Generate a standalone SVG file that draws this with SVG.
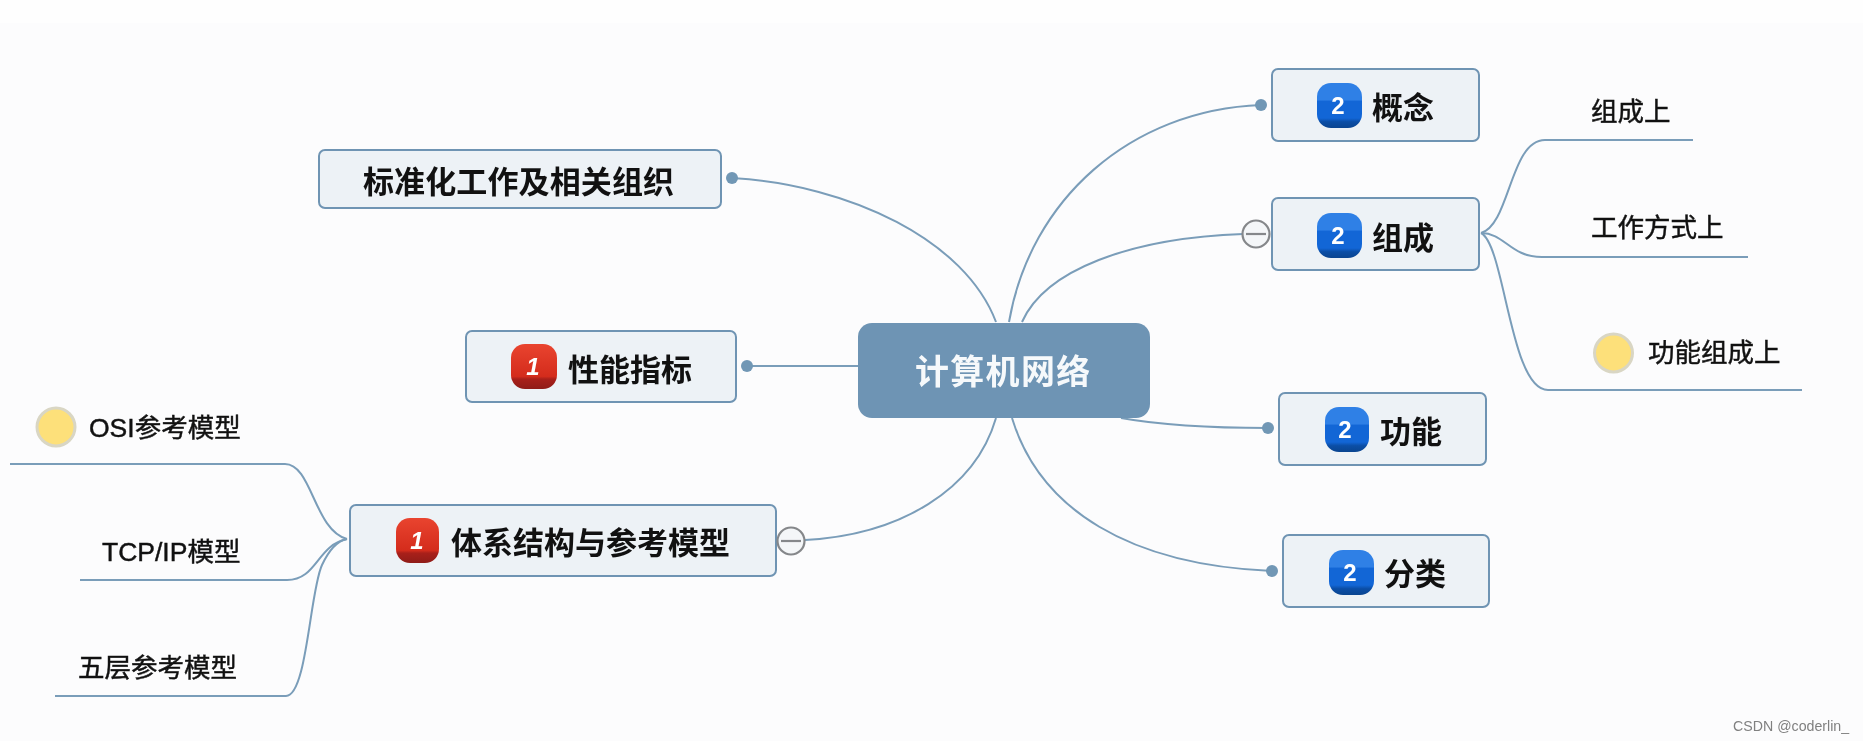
<svg xmlns="http://www.w3.org/2000/svg" width="1863" height="741" viewBox="0 0 1863 741">
<style>
text{font-family:"Liberation Sans","Noto Sans CJK SC",sans-serif;fill:#111}
.m{font-size:31px;font-weight:700}
.s{font-size:26.500px;stroke:#111;stroke-width:.45px}
.c{font-size:34px;font-weight:700;fill:#f6f9fb;letter-spacing:1.300px}
.b{font-size:24px;font-weight:700;fill:#fff;text-anchor:middle}
.i{font-style:italic}
.box{fill:#edf2f6;stroke:#6f94b3;stroke-width:2}
.l{fill:none;stroke:#7a9db9;stroke-width:2}
.o{fill:#fde07a;stroke:#d9d6c4;stroke-width:3}
.x{fill:#f4f6f8;stroke:#85878a;stroke-width:2.200}
.xl{stroke:#85878a;stroke-width:2.200}
</style>
<defs>
<filter id="soft" filterUnits="userSpaceOnUse" x="0" y="0" width="1863" height="741" color-interpolation-filters="sRGB"><feGaussianBlur stdDeviation="0.6"/></filter>
<marker id="dot" markerUnits="userSpaceOnUse" markerWidth="16" markerHeight="16" refX="8" refY="8"><circle cx="8" cy="8" r="6" fill="#7197b5"/></marker>
<linearGradient id="red" x1="0" y1="0" x2="0" y2="1"><stop offset="0" stop-color="#e9442f"/><stop offset=".72" stop-color="#d42c1c"/><stop offset=".78" stop-color="#a9201a"/><stop offset="1" stop-color="#8f1c18"/></linearGradient>
<linearGradient id="blue" x1="0" y1="0" x2="0" y2="1"><stop offset="0" stop-color="#2f80e6"/><stop offset=".38" stop-color="#2f80e6"/><stop offset=".4" stop-color="#1266d6"/><stop offset=".78" stop-color="#1266d6"/><stop offset=".86" stop-color="#0b4ea6"/><stop offset="1" stop-color="#0a4590"/></linearGradient>
</defs>
<rect width="1863" height="741" fill="#fcfcfd"/>
<rect width="1863" height="23" fill="#fefefe"/>
<g filter="url(#soft)">
<g id="connectors">
<path class="l" marker-start="url(#dot)" d="M732 178C850 185 965 240 996 322"/>
<path class="l" marker-end="url(#dot)" d="M1009 322C1030 200 1130 110 1261 105"/>
<path class="l" d="M1022 322C1045 270 1130 238 1243 234"/>
<path class="l" marker-start="url(#dot)" d="M747 366H858"/>
<path class="l" marker-end="url(#dot)" d="M1121 418C1160 425 1210 428 1268 428"/>
<path class="l" marker-end="url(#dot)" d="M1012 418C1040 510 1130 565 1272 571"/>
<path class="l" d="M996 418C975 490 900 535 805 540"/>
<path class="l" d="M10 464H285C312 464 314 530 347 539"/>
<path class="l" d="M80 580H287C317 580 317 545 347 539"/>
<path class="l" d="M55 696H286C307 696 310 590 322 565C329 550 337 541 347 539"/>
<path class="l" d="M1481 233C1510 225 1510 140 1545 140H1693"/>
<path class="l" d="M1481 233C1505 233 1510 257 1542 257H1748"/>
<path class="l" d="M1481 233C1505 245 1510 390 1548 390H1802"/>
</g>
<g id="center"><rect x="858" y="323" width="292" height="95" rx="14" fill="#6e94b4"/><text class="c" x="915" y="384">计算机网络</text></g>
<g id="std"><rect class="box" x="319" y="150" width="402" height="58" rx="6"/><text class="m" x="363" y="193" textLength="311">标准化工作及相关组织</text></g>
<g id="perf"><rect class="box" x="466" y="331" width="270" height="71" rx="6"/><rect x="511" y="344" width="46" height="45" rx="14" fill="url(#red)"/><text class="b i" x="533" y="375">1</text><text class="m" x="568" y="381">性能指标</text></g>
<g id="arch"><rect class="box" x="350" y="505" width="426" height="71" rx="6"/><rect x="396" y="518" width="43" height="45" rx="14" fill="url(#red)"/><text class="b i" x="417" y="549">1</text><text class="m" x="451" y="554" textLength="279">体系结构与参考模型</text></g>
<g id="toggle-arch"><circle class="x" cx="791" cy="541" r="13.500"/><path class="xl" d="M781 541H801"/></g>
<g id="osi"><circle class="o" cx="56" cy="427" r="19"/><text class="s" x="89" y="437">OSI参考模型</text></g>
<g id="tcp"><text class="s" x="102" y="561">TCP/IP模型</text></g>
<g id="five"><text class="s" x="78" y="677">五层参考模型</text></g>
<g id="concept"><rect class="box" x="1272" y="69" width="207" height="72" rx="6"/><rect x="1317" y="83" width="45" height="45" rx="14" fill="url(#blue)"/><text class="b" x="1338" y="114">2</text><text class="m" x="1372" y="119">概念</text></g>
<g id="comp"><rect class="box" x="1272" y="198" width="207" height="72" rx="6"/><rect x="1317" y="213" width="45" height="45" rx="14" fill="url(#blue)"/><text class="b" x="1338" y="244">2</text><text class="m" x="1372" y="249">组成</text></g>
<g id="toggle-comp"><circle class="x" cx="1256" cy="234" r="13.500"/><path class="xl" d="M1246 234H1266"/></g>
<g id="c1"><text class="s" x="1591" y="121">组成上</text></g>
<g id="c2"><text class="s" x="1591" y="237">工作方式上</text></g>
<g id="c3"><circle class="o" cx="1613.500" cy="353" r="19"/><text class="s" x="1648" y="362">功能组成上</text></g>
<g id="func"><rect class="box" x="1279" y="393" width="207" height="72" rx="6"/><rect x="1325" y="407" width="44" height="45" rx="14" fill="url(#blue)"/><text class="b" x="1345" y="438">2</text><text class="m" x="1380" y="443">功能</text></g>
<g id="cls"><rect class="box" x="1283" y="535" width="206" height="72" rx="6"/><rect x="1329" y="550" width="45" height="45" rx="14" fill="url(#blue)"/><text class="b" x="1350" y="581">2</text><text class="m" x="1384" y="585">分类</text></g>
<text x="1733" y="731" font-size="14.200" style="fill:#808080">CSDN @coderlin_</text>
</g>
</svg>
